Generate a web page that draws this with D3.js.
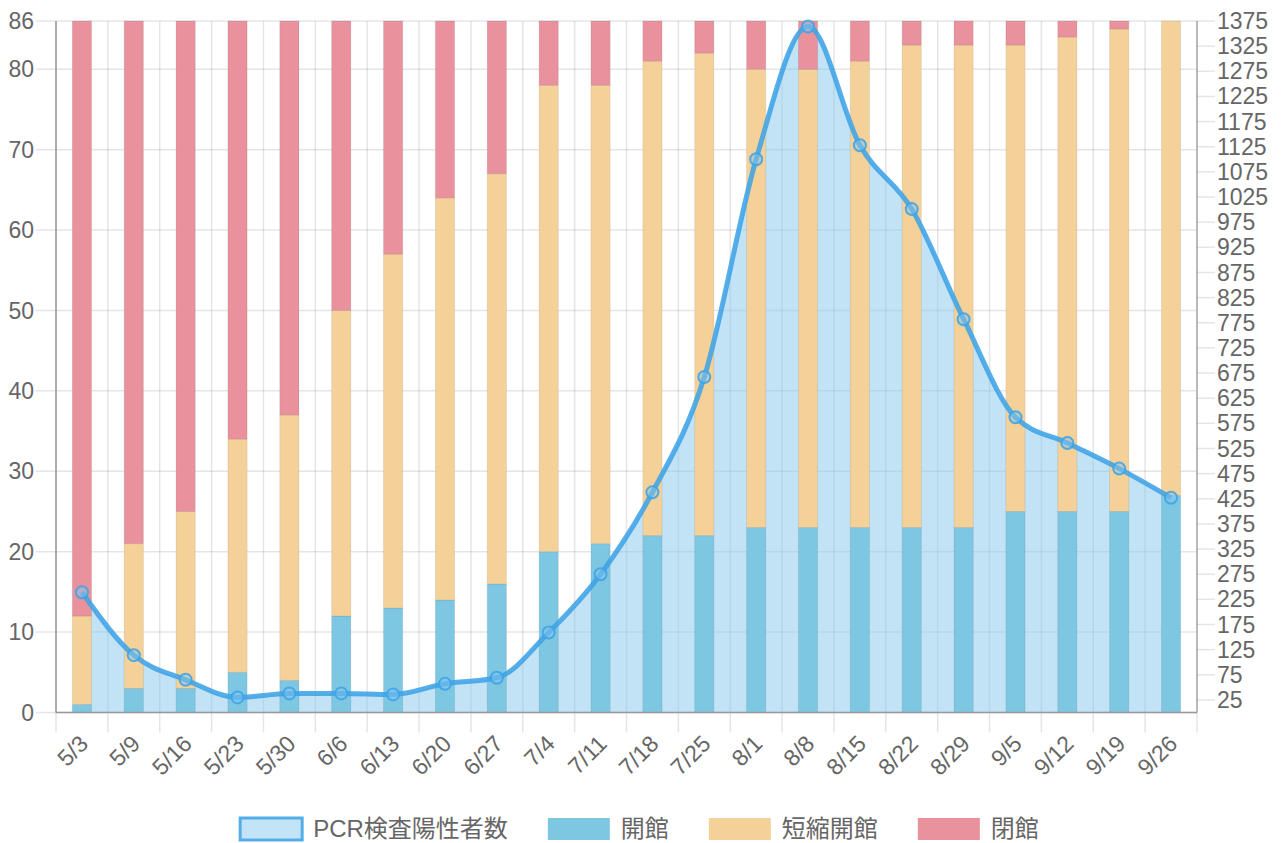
<!DOCTYPE html>
<html>
<head>
<meta charset="utf-8">
<script src="https://cdn.jsdelivr.net/npm/d3@7"></script>
<style>
  body { margin: 0; background: #fff; }
  text { font-family: "Liberation Sans", Arial, "Noto Sans CJK JP", sans-serif; fill: #666; }
</style>
</head>
<body>
<div id="chart"></div>
<script>
// week labels
var weeks = ['5/3','5/9','5/16','5/23','5/30','6/6','6/13','6/20','6/27','7/4','7/11',
  '7/18','7/25','8/1','8/8','8/15','8/22','8/29','9/5','9/12','9/19','9/26'];

// facility counts (stacked)
var open_full = [1,3,3,5,4,12,13,14,16,20,21,22,22,23,23,23,23,23,25,25,25,27];
var open_short = [11,18,22,29,33,38,44,50,51,58,57,59,60,57,57,58,60,60,58,59,60,59];
var closed_count = [74,65,61,52,49,36,29,22,19,8,8,5,4,6,6,5,3,3,3,2,1,0];

// PCR positives (right axis)
var pcr = [239,114,65,30,38,38,36,57,69,159,275,438,667,1100,1364,1128,1001,782,587,536,485,427];

var left_ticks = [0,10,20,30,40,50,60,70,80,86];
var right_ticks = d3.range(25, 1376, 50);

var series_names = ['PCR検査陽性者数', '開館', '短縮開館', '閉館'];
var colors = {open: '#7ec7e2', shrt: '#f5d19a', shut: '#e9929d'};

var chart_width = 1283, chart_height = 843;
var plot_left = 56, plot_right = 1197, plot_top = 21, plot_bottom = 712.5;

var svg = d3.select('#chart').append('svg')
  .attr('width', chart_width)
  .attr('height', chart_height);

var x_scale = d3.scaleBand()
  .domain(weeks)
  .range([plot_left, plot_right])
  .paddingInner(0.63)
  .paddingOuter(0.315);

var y_left = d3.scaleLinear().domain([0, 86]).range([plot_bottom, plot_top]);
var y_right = d3.scaleLinear().domain([0, 1375]).range([plot_bottom, plot_top]);

var step = x_scale.step();
function center(d) { return x_scale(d) + x_scale.bandwidth() / 2; }

// grid: vertical lines at category edges
var edges = weeks.map(function(d) { return center(d) - step / 2; });
edges.push(plot_right);
svg.append('g').selectAll('line')
  .data(edges)
  .enter().append('line')
  .attr('x1', function(d) { return d; })
  .attr('x2', function(d) { return d; })
  .attr('y1', plot_top)
  .attr('y2', plot_bottom + 20)
  .attr('stroke', 'rgba(0,0,0,0.1)')
  .attr('stroke-width', 1.5);

// horizontal grid from left axis
svg.append('g').selectAll('line')
  .data(left_ticks)
  .enter().append('line')
  .attr('x1', plot_left - 20)
  .attr('x2', plot_right)
  .attr('y1', function(d) { return y_left(d); })
  .attr('y2', function(d) { return y_left(d); })
  .attr('stroke', 'rgba(0,0,0,0.1)')
  .attr('stroke-width', 1.5);

// area under PCR line
var area = d3.area()
  .x(function(d, i) { return center(weeks[i]); })
  .y0(plot_bottom)
  .y1(function(d) { return y_right(d); })
  .curve(d3.curveMonotoneX);

svg.append('path')
  .datum(pcr)
  .attr('d', area)
  .attr('fill', 'rgba(133,198,238,0.5)');

// stacked bars
var rows = weeks.map(function(w, i) {
  return {week: w, open: open_full[i], shrt: open_short[i], shut: closed_count[i]};
});
var stack = d3.stack().keys(['open', 'shrt', 'shut'])(rows);

svg.append('g').selectAll('g')
  .data(stack)
  .enter().append('g')
  .attr('fill', function(d) { return colors[d.key]; })
  .selectAll('rect')
  .data(function(d) { return d; })
  .enter().append('rect')
  .attr('x', function(d) { return x_scale(d.data.week); })
  .attr('width', x_scale.bandwidth())
  .attr('y', function(d) { return y_left(d[1]); })
  .attr('height', function(d) { return y_left(d[0]) - y_left(d[1]); })
  .attr('stroke', 'rgba(0,0,0,0.08)')
  .attr('stroke-width', 1);

// axis lines
svg.append('line')
  .attr('x1', plot_left).attr('x2', plot_left).attr('y1', plot_top).attr('y2', plot_bottom)
  .attr('stroke', '#999').attr('stroke-width', 1.5);
svg.append('line')
  .attr('x1', plot_right).attr('x2', plot_right).attr('y1', plot_top).attr('y2', plot_bottom)
  .attr('stroke', '#aaa').attr('stroke-width', 1.5);
svg.append('line')
  .attr('x1', plot_left).attr('x2', plot_right).attr('y1', plot_bottom).attr('y2', plot_bottom)
  .attr('stroke', '#999').attr('stroke-width', 1.5);

// PCR line
var line = d3.line()
  .x(function(d, i) { return center(weeks[i]); })
  .y(function(d) { return y_right(d); })
  .curve(d3.curveMonotoneX);

svg.append('path')
  .datum(pcr)
  .attr('d', line)
  .attr('fill', 'none')
  .attr('stroke', 'rgba(62,163,230,0.88)')
  .attr('stroke-width', 5);

svg.append('g').selectAll('circle')
  .data(pcr)
  .enter().append('circle')
  .attr('cx', function(d, i) { return center(weeks[i]); })
  .attr('cy', function(d) { return y_right(d); })
  .attr('r', 6)
  .attr('fill', 'rgba(133,198,238,0.5)')
  .attr('stroke', 'rgba(62,163,230,0.88)')
  .attr('stroke-width', 2);

// left axis labels
svg.append('g').selectAll('text')
  .data(left_ticks)
  .enter().append('text')
  .attr('x', plot_left - 22)
  .attr('y', function(d) { return y_left(d); })
  .attr('dy', '0.35em')
  .attr('text-anchor', 'end')
  .style('font-size', '23px')
  .text(function(d) { return d; });

// right axis ticks and labels
var right_axis = svg.append('g');
right_axis.selectAll('line')
  .data(right_ticks)
  .enter().append('line')
  .attr('x1', plot_right)
  .attr('x2', plot_right + 18)
  .attr('y1', function(d) { return y_right(d); })
  .attr('y2', function(d) { return y_right(d); })
  .attr('stroke', 'rgba(0,0,0,0.1)')
  .attr('stroke-width', 1.5);
right_axis.selectAll('text')
  .data(right_ticks)
  .enter().append('text')
  .attr('x', plot_right + 20)
  .attr('y', function(d) { return y_right(d); })
  .attr('dy', '0.35em')
  .style('font-size', '23px')
  .text(function(d) { return d; });

// x labels
svg.append('g').selectAll('text')
  .data(weeks)
  .enter().append('text')
  .attr('transform', function(d) {
    return 'translate(' + (center(d) + 2) + ',' + (plot_bottom + 27) + ') rotate(-45)';
  })
  .attr('text-anchor', 'end')
  .attr('dy', '0.35em')
  .style('font-size', '23px')
  .text(function(d) { return d; });

// legend
var legend = svg.append('g');
var legend_fill = ['#c3e3f6', colors.open, colors.shrt, colors.shut];
var box_w = 62, box_h = 22, gap = 11, item_gap = 40, legend_y = 829;

var items = legend.selectAll('g')
  .data(series_names)
  .enter().append('g');
items.append('text')
  .attr('y', legend_y)
  .attr('dy', '0.35em')
  .style('font-size', '24px')
  .text(function(d) { return d; });

var widths = [];
items.each(function() {
  widths.push(this.getBBox().width);
});
var total = d3.sum(widths) + series_names.length * (box_w + gap) + (series_names.length - 1) * item_gap;
var pos = (chart_width - total) / 2 - 2;
items.each(function(d, i) {
  var g = d3.select(this);
  g.insert('rect', 'text')
    .attr('x', pos)
    .attr('y', legend_y - box_h / 2)
    .attr('width', box_w)
    .attr('height', box_h)
    .attr('fill', legend_fill[i])
    .attr('stroke', i === 0 ? '#52aee8' : 'none')
    .attr('stroke-width', i === 0 ? 3 : 0);
  g.select('text').attr('x', pos + box_w + gap);
  pos += box_w + gap + widths[i] + item_gap;
});
</script>
</body>
</html>
